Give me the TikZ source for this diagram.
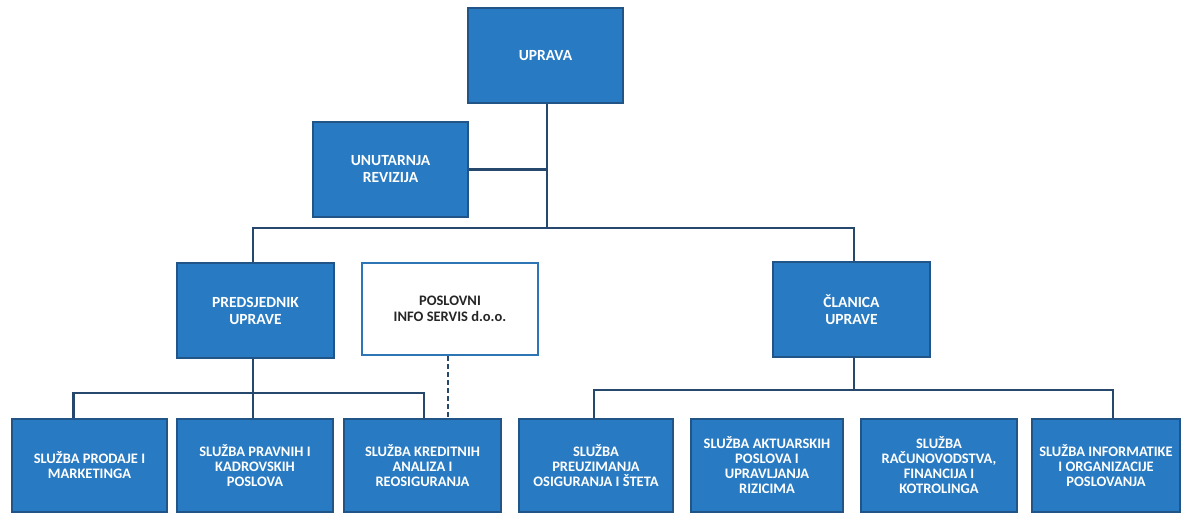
\documentclass[tikz,border=0pt]{standalone}
\usepackage{fontspec}
\setmainfont{Carlito}
\definecolor{boxfill}{RGB}{40,122,194}
\definecolor{boxline}{RGB}{33,84,135}
\definecolor{conn}{RGB}{38,72,108}
\definecolor{wbline}{RGB}{46,117,182}
\begin{document}
\begin{tikzpicture}[x=1pt,y=-1pt,
  bluebox/.style={draw=boxline, line width=1.2pt, fill=boxfill, text=white,
    font=\fontsize{14.5}{15}\selectfont\bfseries, align=center, inner sep=2pt},
  topbox/.style={bluebox, font=\fontsize{15.5}{17}\selectfont\bfseries, minimum height=95pt},
  botbox/.style={bluebox, minimum height=93pt},
  whitebox/.style={draw=wbline, line width=2.5pt, fill=white, text=black!85,
    font=\fontsize{14.5}{16}\selectfont\bfseries, align=center, minimum width=176pt, minimum height=92pt},
  conline/.style={draw=conn, line width=2.6pt},
  dashline/.style={draw=conn, line width=2.6pt, dash pattern=on 5pt off 3pt}]
\useasboundingbox (0,0) rectangle (1183,513);
\fill[white] (0,0) rectangle (1183,513);
% top level
\node[topbox, minimum width=155pt] (uprava) at (545.5,55.5) {UPRAVA};
\node[topbox, minimum width=155pt] (revizija) at (390.5,169.5) {UNUTARNJA\\REVIZIJA};
\node[topbox, minimum width=157pt] (predsj) at (255.5,310.5) {PREDSJEDNIK\\UPRAVE};
\node[whitebox] (poslovni) at (450,309) {POSLOVNI\\INFO SERVIS d.o.o.};
\node[topbox, minimum width=157pt] (clanica) at (851.5,309.5) {ČLANICA\\UPRAVE};
% bottom level
\node[botbox, minimum width=155pt] (b1) at (89.5,465.5) {SLUŽBA PRODAJE I\\MARKETINGA};
\node[botbox, minimum width=156pt] (b2) at (255,465.5) {SLUŽBA PRAVNIH I\\KADROVSKIH\\POSLOVA};
\node[botbox, minimum width=157pt] (b3) at (422.5,465.5) {SLUŽBA KREDITNIH\\ANALIZA I\\REOSIGURANJA};
\node[botbox, minimum width=154pt] (b4) at (596,465.5) {SLUŽBA\\PREUZIMANJA\\OSIGURANJA I ŠTETA};
\node[botbox, minimum width=152pt] (b5) at (767,465.5) {SLUŽBA AKTUARSKIH\\POSLOVA I\\UPRAVLJANJA\\RIZICIMA};
\node[botbox, minimum width=156pt] (b6) at (939,465.5) {SLUŽBA\\RAČUNOVODSTVA,\\FINANCIJA I\\KOTROLINGA};
\node[botbox, minimum width=148pt] (b7) at (1106,465.5) {SLUŽBA INFORMATIKE\\I ORGANIZACIJE\\POSLOVANJA};
% junctions
\coordinate (j1) at (547,228);
\coordinate (j2) at (253,393);
\coordinate (j3) at (854,390);
% connectors
\draw[conline] (j1 |- uprava.south) -- (j1);
\draw[conline] (revizija.east) -- (revizija.east -| j1);
\draw[conline] (predsj.north -| j2) |- (j1) -| (clanica.north -| j3);
\draw[conline] (j2 |- predsj.south) -- (j2);
\draw[conline] ([xshift=-16pt]b1.north) |- (j2) -| ([xshift=1.5pt]b3.north);
\draw[conline] (j2) -- (j2 |- b2.north);
\draw[dashline] ([xshift=-2pt]poslovni.south) -- ([xshift=-2pt]poslovni.south |- b3.north);
\draw[conline] (j3 |- clanica.south) -- (j3);
\draw[conline] ([xshift=-2pt]b4.north) |- (j3) -| ([xshift=7pt]b7.north);
\end{tikzpicture}
\end{document}
